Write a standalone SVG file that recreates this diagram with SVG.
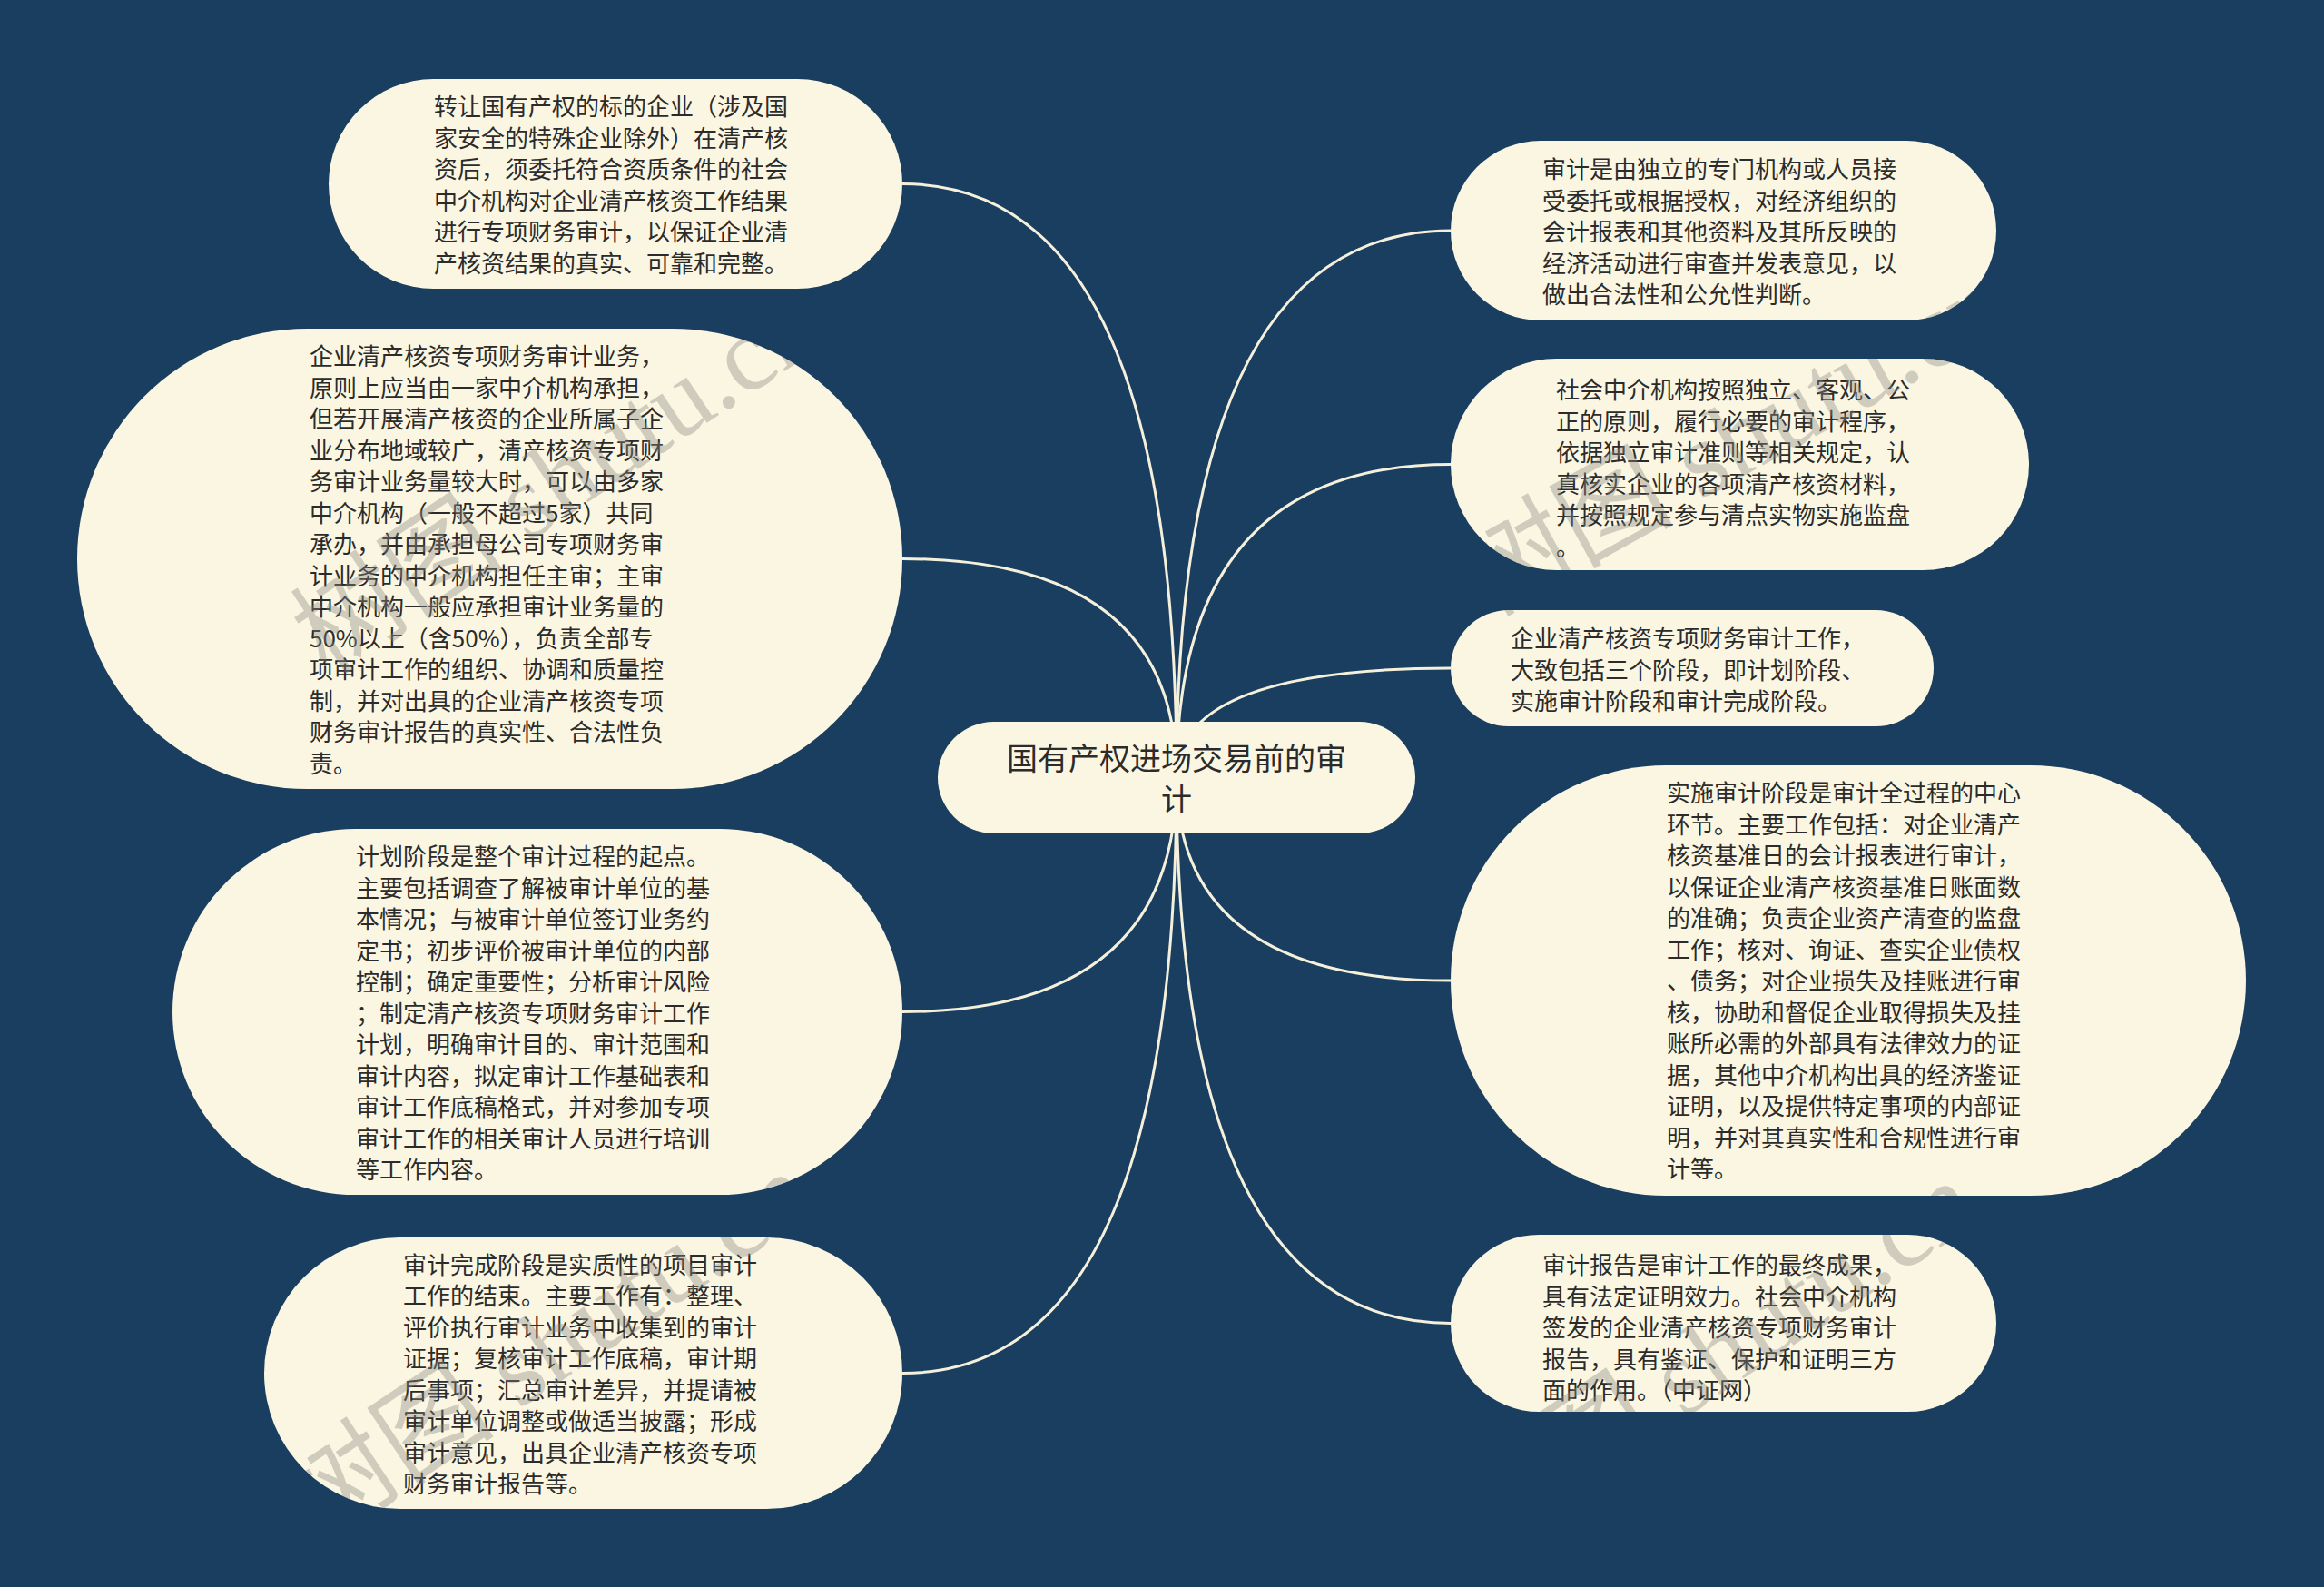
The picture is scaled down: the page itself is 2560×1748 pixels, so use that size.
<svg xmlns="http://www.w3.org/2000/svg" width="2560" height="1748" viewBox="0 0 2560 1748">
<style>
.bg{fill:#1a3e5f}
.node{fill:#faf6e2}
.edge{fill:none;stroke:#f5f0dc;stroke-width:3}
.t{font-family:"Noto Sans CJK SC","Noto Sans",sans-serif;font-size:26px;fill:#2b2b2b}
.tc{font-family:"Noto Sans CJK SC","Noto Sans",sans-serif;font-size:34px;fill:#2b2b2b;text-anchor:middle}
.wm{font-family:"Liberation Serif","Noto Sans CJK SC",serif;font-size:118px;fill:#8c8a80;fill-opacity:0.38}
</style>
<defs>
<clipPath id="nodesClip">
<rect x="362" y="87" width="632" height="231" rx="115.5"/>
<rect x="85" y="362" width="909" height="507" rx="253.5"/>
<rect x="190" y="913" width="804" height="403" rx="201.5"/>
<rect x="291" y="1363" width="703" height="299" rx="149.5"/>
<rect x="1598" y="155" width="601" height="198" rx="99"/>
<rect x="1598" y="395" width="637" height="233" rx="116.5"/>
<rect x="1598" y="672" width="532" height="128" rx="64"/>
<rect x="1598" y="843" width="876" height="474" rx="237"/>
<rect x="1598" y="1360" width="601" height="195" rx="97.5"/>
</clipPath>
</defs>
<rect class="bg" x="0" y="0" width="2560" height="1748"/>
<g id="connectors">
<path class="edge" d="M1296 856 Q1296 202.5 994 202.5"/>
<path class="edge" d="M1296 856 Q1296 615.5 994 615.5"/>
<path class="edge" d="M1296 856 Q1296 1114.5 994 1114.5"/>
<path class="edge" d="M1296 856 Q1296 1512.5 994 1512.5"/>
<path class="edge" d="M1296 856 Q1296 254 1598 254"/>
<path class="edge" d="M1296 856 Q1296 511.5 1598 511.5"/>
<path class="edge" d="M1296 856 Q1296 736 1598 736"/>
<path class="edge" d="M1296 856 Q1296 1080 1598 1080"/>
<path class="edge" d="M1296 856 Q1296 1457.5 1598 1457.5"/>
</g>
<g id="center">
<rect class="node" x="1033" y="795" width="526" height="123" rx="61.5"/>
<text class="tc"><tspan x="1296" y="848">国有产权进场交易前的审</tspan><tspan x="1296" y="893">计</tspan></text>
</g>
<g id="node-l1">
<rect class="node" x="362" y="87" width="632" height="231" rx="115.5"/>
<text class="t"><tspan x="478" y="127">转让国有产权的标的企业（涉及国</tspan><tspan x="478" y="161.5">家安全的特殊企业除外）在清产核</tspan><tspan x="478" y="196">资后，须委托符合资质条件的社会</tspan><tspan x="478" y="230.5">中介机构对企业清产核资工作结果</tspan><tspan x="478" y="265">进行专项财务审计，以保证企业清</tspan><tspan x="478" y="299.5">产核资结果的真实、可靠和完整。</tspan></text>
</g>
<g id="node-l2">
<rect class="node" x="85" y="362" width="909" height="507" rx="253.5"/>
<text class="t"><tspan x="341" y="402">企业清产核资专项财务审计业务，</tspan><tspan x="341" y="436.5">原则上应当由一家中介机构承担，</tspan><tspan x="341" y="471">但若开展清产核资的企业所属子企</tspan><tspan x="341" y="505.5">业分布地域较广，清产核资专项财</tspan><tspan x="341" y="540">务审计业务量较大时，可以由多家</tspan><tspan x="341" y="574.5">中介机构（一般不超过5家）共同</tspan><tspan x="341" y="609">承办，并由承担母公司专项财务审</tspan><tspan x="341" y="643.5">计业务的中介机构担任主审；主审</tspan><tspan x="341" y="678">中介机构一般应承担审计业务量的</tspan><tspan x="341" y="712.5">50%以上（含50%），负责全部专</tspan><tspan x="341" y="747">项审计工作的组织、协调和质量控</tspan><tspan x="341" y="781.5">制，并对出具的企业清产核资专项</tspan><tspan x="341" y="816">财务审计报告的真实性、合法性负</tspan><tspan x="341" y="850.5">责。</tspan></text>
</g>
<g id="node-l3">
<rect class="node" x="190" y="913" width="804" height="403" rx="201.5"/>
<text class="t"><tspan x="392" y="953">计划阶段是整个审计过程的起点。</tspan><tspan x="392" y="987.5">主要包括调查了解被审计单位的基</tspan><tspan x="392" y="1022">本情况；与被审计单位签订业务约</tspan><tspan x="392" y="1056.5">定书；初步评价被审计单位的内部</tspan><tspan x="392" y="1091">控制；确定重要性；分析审计风险</tspan><tspan x="392" y="1125.5">；制定清产核资专项财务审计工作</tspan><tspan x="392" y="1160">计划，明确审计目的、审计范围和</tspan><tspan x="392" y="1194.5">审计内容，拟定审计工作基础表和</tspan><tspan x="392" y="1229">审计工作底稿格式，并对参加专项</tspan><tspan x="392" y="1263.5">审计工作的相关审计人员进行培训</tspan><tspan x="392" y="1298">等工作内容。</tspan></text>
</g>
<g id="node-l4">
<rect class="node" x="291" y="1363" width="703" height="299" rx="149.5"/>
<text class="t"><tspan x="444" y="1402.5">审计完成阶段是实质性的项目审计</tspan><tspan x="444" y="1437">工作的结束。主要工作有：整理、</tspan><tspan x="444" y="1471.5">评价执行审计业务中收集到的审计</tspan><tspan x="444" y="1506">证据；复核审计工作底稿，审计期</tspan><tspan x="444" y="1540.5">后事项；汇总审计差异，并提请被</tspan><tspan x="444" y="1575">审计单位调整或做适当披露；形成</tspan><tspan x="444" y="1609.5">审计意见，出具企业清产核资专项</tspan><tspan x="444" y="1644">财务审计报告等。</tspan></text>
</g>
<g id="node-r1">
<rect class="node" x="1598" y="155" width="601" height="198" rx="99"/>
<text class="t"><tspan x="1699" y="196">审计是由独立的专门机构或人员接</tspan><tspan x="1699" y="230.5">受委托或根据授权，对经济组织的</tspan><tspan x="1699" y="265">会计报表和其他资料及其所反映的</tspan><tspan x="1699" y="299.5">经济活动进行审查并发表意见，以</tspan><tspan x="1699" y="334">做出合法性和公允性判断。</tspan></text>
</g>
<g id="node-r2">
<rect class="node" x="1598" y="395" width="637" height="233" rx="116.5"/>
<text class="t"><tspan x="1714" y="439">社会中介机构按照独立、客观、公</tspan><tspan x="1714" y="473.5">正的原则，履行必要的审计程序，</tspan><tspan x="1714" y="508">依据独立审计准则等相关规定，认</tspan><tspan x="1714" y="542.5">真核实企业的各项清产核资材料，</tspan><tspan x="1714" y="577">并按照规定参与清点实物实施监盘</tspan><tspan x="1714" y="611.5">。</tspan></text>
</g>
<g id="node-r3">
<rect class="node" x="1598" y="672" width="532" height="128" rx="64"/>
<text class="t"><tspan x="1664" y="713">企业清产核资专项财务审计工作，</tspan><tspan x="1664" y="747.5">大致包括三个阶段，即计划阶段、</tspan><tspan x="1664" y="782">实施审计阶段和审计完成阶段。</tspan></text>
</g>
<g id="node-r4">
<rect class="node" x="1598" y="843" width="876" height="474" rx="237"/>
<text class="t"><tspan x="1836" y="883">实施审计阶段是审计全过程的中心</tspan><tspan x="1836" y="917.5">环节。主要工作包括：对企业清产</tspan><tspan x="1836" y="952">核资基准日的会计报表进行审计，</tspan><tspan x="1836" y="986.5">以保证企业清产核资基准日账面数</tspan><tspan x="1836" y="1021">的准确；负责企业资产清查的监盘</tspan><tspan x="1836" y="1055.5">工作；核对、询证、查实企业债权</tspan><tspan x="1836" y="1090">、债务；对企业损失及挂账进行审</tspan><tspan x="1836" y="1124.5">核，协助和督促企业取得损失及挂</tspan><tspan x="1836" y="1159">账所必需的外部具有法律效力的证</tspan><tspan x="1836" y="1193.5">据，其他中介机构出具的经济鉴证</tspan><tspan x="1836" y="1228">证明，以及提供特定事项的内部证</tspan><tspan x="1836" y="1262.5">明，并对其真实性和合规性进行审</tspan><tspan x="1836" y="1297">计等。</tspan></text>
</g>
<g id="node-r5">
<rect class="node" x="1598" y="1360" width="601" height="195" rx="97.5"/>
<text class="t"><tspan x="1699" y="1403">审计报告是审计工作的最终成果，</tspan><tspan x="1699" y="1437.5">具有法定证明效力。社会中介机构</tspan><tspan x="1699" y="1472">签发的企业清产核资专项财务审计</tspan><tspan x="1699" y="1506.5">报告，具有鉴证、保护和证明三方</tspan><tspan x="1699" y="1541">面的作用。（中证网）</tspan></text>
</g>
<g id="watermarks" clip-path="url(#nodesClip)">
<text class="wm" transform="translate(360 745) rotate(-33.7)">树图 shutu.cn</text>
<text class="wm" transform="translate(1640 680) rotate(-29)">树图 shutu.cn</text>
<text class="wm" transform="translate(350 1700) rotate(-33.7)">树图 shutu.cn</text>
<text class="wm" transform="translate(1633 1710) rotate(-33.7)">树图 shutu.cn</text>
</g>
</svg>
